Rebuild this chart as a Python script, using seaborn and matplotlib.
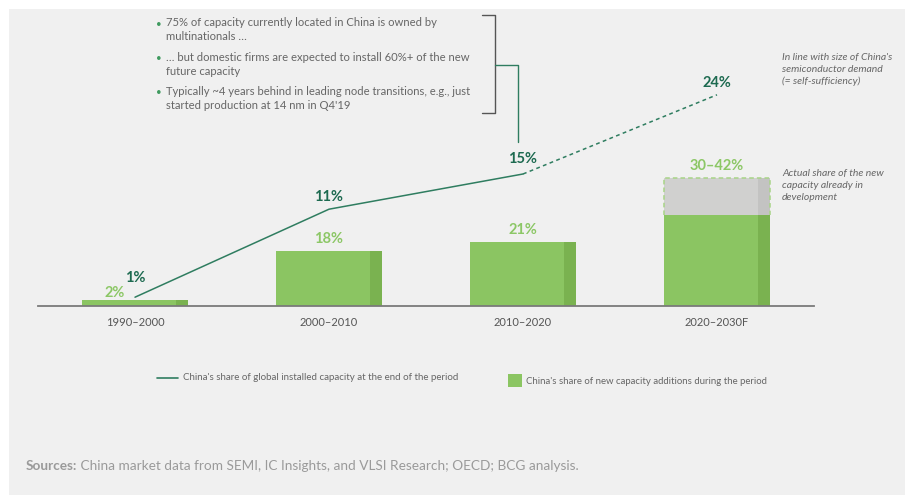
import numpy as np
import pandas as pd
import matplotlib
matplotlib.use("Agg")
import matplotlib.pyplot as plt
from matplotlib.patches import Rectangle
from matplotlib.lines import Line2D
import seaborn as sns

# ---------------- data ----------------
categories = ["1990–2000", "2000–2010", "2010–2020", "2020–2030F"]
new_capacity_low = [2, 18, 21, 30]      # China's share of new capacity additions (%)
new_capacity_high = [2, 18, 21, 42]     # upper end of range (%)
new_capacity_labels = ["2%", "18%", "21%", "30–42%"]
installed_share = [1, 11, 15, 24]       # China's share of global installed capacity (%)
installed_labels = ["1%", "11%", "15%", "24%"]

bullets = [
    "75% of capacity currently located in China is owned by\nmultinationals …",
    "… but domestic firms are expected to install 60%+ of the new\nfuture capacity",
    "Typically ~4 years behind in leading node transitions, e.g., just\nstarted production at 14 nm in Q4'19",
]
note_demand = "In line with size of China's\nsemiconductor demand\n(= self-sufficiency)"
note_actual = "Actual share of the new\ncapacity already in\ndevelopment"
legend_line_text = "China's share of global installed capacity at the end of the period"
legend_bar_text = "China's share of new capacity additions during the period"
source_bold = "Sources:"
source_text = " China market data from SEMI, IC Insights, and VLSI Research; OECD; BCG analysis."

# ---------------- style ----------------
sns.set_style("white")
plt.rcParams["font.family"] = ["Lato", "DejaVu Sans"]

GREEN = "#8bc562"
GREEN_DARK = "#7ab250"
GREY_BAR = "#d0d0cf"
GREY_BAR_DARK = "#c3c3c2"
TEAL = "#2f7d60"
TEAL_TEXT = "#1d6a50"
LABEL_GREEN = "#8cc766"
TEXT_GREY = "#666666"
PANEL = "#f0f0f0"

W, H = 905, 495
fig = plt.figure(figsize=(W / 100, H / 100), dpi=100)
fig.patch.set_facecolor("white")


def px(x, y):
    return (x / W, 1 - y / H)


# background panel
fig.patches.append(Rectangle(px(9, H), 1 - 9 / W, 1 - 9 / H, transform=fig.transFigure,
                             facecolor=PANEL, edgecolor="none", zorder=-10))

# axes: baseline at y=306 px, spanning x 38..814 px, top at 10 px
ax_left, ax_right, ax_top, ax_base = 38, 814, 10, 306
ax = fig.add_axes([ax_left / W, (H - ax_base) / H, (ax_right - ax_left) / W, (ax_base - ax_top) / H])
ax.set_facecolor("none")

bar_px_per_pct = 3.05
line_px_per_pct = 8.8
axis_h = ax_base - ax_top

df = pd.DataFrame({"period": categories, "low": new_capacity_low, "high": new_capacity_high})

bar_w = 0.546
sns.barplot(data=df, x="period", y="high", order=categories, color=GREY_BAR, saturation=1,
            width=bar_w, errorbar=None, ax=ax, zorder=2, linewidth=0, edgecolor="none")
n_grey = len(ax.patches)
sns.barplot(data=df, x="period", y="low", order=categories, color=GREEN, saturation=1,
            width=bar_w, errorbar=None, ax=ax, zorder=3, linewidth=0, edgecolor="none")

grey_patches = ax.patches[:n_grey]
green_patches = ax.patches[n_grey:]
strip_frac = 0.113

for gp, lo, hi in zip(grey_patches, new_capacity_low, new_capacity_high):
    x0, w = gp.get_x(), gp.get_width()
    if hi > lo:
        ax.add_patch(Rectangle((x0 + w * (1 - strip_frac), lo), w * strip_frac, hi - lo,
                               facecolor=GREY_BAR_DARK, edgecolor="none", lw=0, zorder=2.5))
        ax.plot([x0, x0, x0 + w, x0 + w], [lo, hi, hi, lo], color="#a8d487",
                lw=1.1, ls=(0, (3, 2)), zorder=4)
    else:
        gp.set_visible(False)

for p in green_patches:
    x0, w, h = p.get_x(), p.get_width(), p.get_height()
    ax.add_patch(Rectangle((x0 + w * (1 - strip_frac), 0), w * strip_frac, h,
                           facecolor=GREEN_DARK, edgecolor="none", lw=0, zorder=3.5))

ax.set_ylim(0, axis_h / bar_px_per_pct)
ax.set_xlim(-0.5, 3.5)
ax.set_xlabel("")
ax.set_ylabel("")
ax.set_yticks([])
for s in ["top", "right", "left"]:
    ax.spines[s].set_visible(False)
ax.spines["bottom"].set_color("#7a7a7a")
ax.spines["bottom"].set_linewidth(1.3)
ax.spines["bottom"].set_zorder(6)
ax.tick_params(axis="x", length=0, pad=8, labelsize=8, labelcolor="#555555")

# bar value labels (pixel offsets)
bar_label_offsets = [(-20, 7), (0, 12), (0, 12), (0, 12)]
for i, (lab, hi) in enumerate(zip(new_capacity_labels, new_capacity_high)):
    ax.annotate(lab, (i, hi), xytext=bar_label_offsets[i], textcoords="offset pixels",
                ha="center", va="center", fontsize=10.5, fontweight="bold", color=LABEL_GREEN, zorder=6)

# line on twin axis
ax2 = ax.twinx()
ax2.set_ylim(0, axis_h / line_px_per_pct)
xi = np.arange(len(categories))
sns.lineplot(x=xi[:3], y=installed_share[:3], ax=ax2, color=TEAL, lw=1.1, zorder=5)
sns.lineplot(x=xi[2:], y=installed_share[2:], ax=ax2, color=TEAL, lw=1.1, zorder=5)
ax2.lines[-1].set_linestyle((0, (2.5, 2.2)))
ax2.set_xlim(-0.5, 3.5)
ax2.set_yticks([])
ax2.set_ylabel("")
for s in ax2.spines.values():
    s.set_visible(False)

inst_label_offsets = [(0, 19), (0, 12), (0, 15), (0, 12)]
for i, (lab, v) in enumerate(zip(installed_labels, installed_share)):
    ax2.annotate(lab, (i, v), xytext=inst_label_offsets[i], textcoords="offset pixels",
                 ha="center", va="center", fontsize=10.5, fontweight="bold", color=TEAL_TEXT, zorder=6)

# ---------------- annotations ----------------
bullet_y = [23, 58, 92]
for y, b in zip(bullet_y, bullets):
    fig.text(*px(159, y + 1), "•", fontsize=7, color="#3f9a5f", ha="center", va="center")
    fig.text(*px(166, y - 6), b, fontsize=8.1, color=TEXT_GREY, ha="left", va="top", linespacing=1.3)

# bracket
fig.add_artist(Line2D([482 / W, 495 / W, 495 / W, 482 / W],
                      [1 - 15 / H, 1 - 15 / H, 1 - 113 / H, 1 - 113 / H],
                      transform=fig.transFigure, color="#555555", lw=1.0))
fig.add_artist(Line2D([495 / W, 518 / W, 518 / W], [1 - 65 / H, 1 - 65 / H, 1 - 142 / H],
                      transform=fig.transFigure, color=TEAL, lw=1.0))

fig.text(*px(782, 53), note_demand, fontsize=7.5, style="italic", color=TEXT_GREY,
         ha="left", va="top", linespacing=1.4)
fig.text(*px(782, 169), note_actual, fontsize=7.5, style="italic", color=TEXT_GREY,
         ha="left", va="top", linespacing=1.4)

# legend
fig.add_artist(Line2D([157 / W, 178 / W], [1 - 378 / H, 1 - 378 / H], transform=fig.transFigure,
                      color=TEAL, lw=1.2))
fig.text(*px(183, 378), legend_line_text, fontsize=7, color=TEXT_GREY, ha="left", va="center")
fig.patches.append(Rectangle(px(508, 387), 14 / W, 13 / H, transform=fig.transFigure,
                             facecolor=GREEN, edgecolor="none"))
fig.text(*px(526, 381), legend_bar_text, fontsize=6.9, color=TEXT_GREY, ha="left", va="center")

# sources
t1 = fig.text(*px(26, 466), source_bold, fontsize=9.8, fontweight="bold", color="#9a9a9a",
              ha="left", va="center")
fig.canvas.draw()
bb = t1.get_window_extent()
fig.text(bb.x1 / W, 1 - 466 / H, source_text, fontsize=9.8, color="#9a9a9a", ha="left", va="center")

fig.savefig("out.png", dpi=100, facecolor=fig.get_facecolor())
